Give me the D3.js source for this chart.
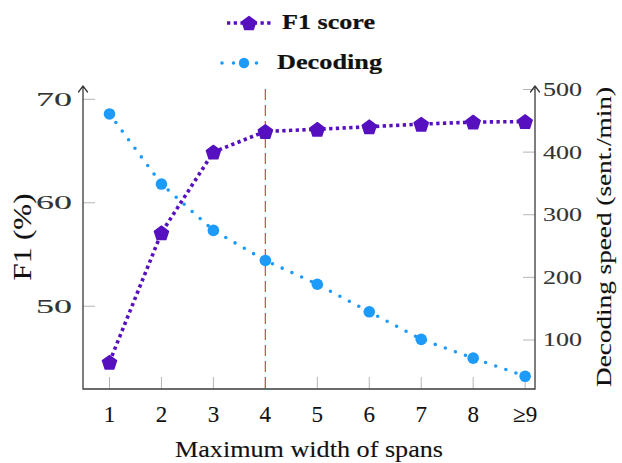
<!DOCTYPE html>
<html>
<head>
<meta charset="utf-8">
<script src="https://cdn.jsdelivr.net/npm/d3@7"></script>
<style>
  html, body { margin: 0; padding: 0; background: #fff; }
  svg { display: block; }
</style>
</head>
<body>
<svg id="chart" width="622" height="463"></svg>
<script>
// ---- data ----
const spanWidths = [1, 2, 3, 4, 5, 6, 7, 8, 9];
const xTickLabels = ["1", "2", "3", "4", "5", "6", "7", "8", "≥9"];
const f1Scores = [44.6, 57.1, 64.9, 66.9, 67.1, 67.35, 67.6, 67.8, 67.85];
const decodingSpeed = [461, 349, 275, 227, 189, 145, 101, 71, 42];
const leftTicks = [50, 60, 70];
const rightTicks = [100, 200, 300, 400, 500];
const markerWidth = 4;
const seriesNames = ["F1 score", "Decoding"];

// ---- layout ----
const plot = { left: 83, right: 535, top: 87, bottom: 389 };
const purple = "#5610c0";
const blue = "#1d9bfb";
const textColor = "#111";
const FONT = "Liberation Serif";

const svg = d3.select("#chart");

const x = d3.scaleLinear().domain([0.49, 9.19]).range([plot.left, plot.right]);
const yL = d3.scaleLinear().domain([42, 71.19]).range([plot.bottom, plot.top]);
const yR = d3.scaleLinear().domain([21.7, 504]).range([plot.bottom, plot.top]);

function txt(sel, sw) {
  return sel.attr("font-family", FONT).attr("fill", textColor)
    .attr("stroke", textColor).attr("stroke-width", sw == null ? 0.12 : sw);
}

// ticks (inward, light gray)
const tickColor = "#b5b5b5";
const tickLen = 12;
const gTicks = svg.append("g");
gTicks.selectAll(".xt").data(spanWidths).enter().append("line")
  .attr("x1", d => x(d)).attr("x2", d => x(d))
  .attr("y1", plot.bottom).attr("y2", plot.bottom - tickLen)
  .attr("stroke", tickColor).attr("stroke-width", 1);
gTicks.selectAll(".lt").data(leftTicks).enter().append("line")
  .attr("x1", plot.left).attr("x2", plot.left + tickLen)
  .attr("y1", d => yL(d)).attr("y2", d => yL(d))
  .attr("stroke", tickColor).attr("stroke-width", 1);
gTicks.selectAll(".rt").data(rightTicks).enter().append("line")
  .attr("x1", plot.right - tickLen).attr("x2", plot.right)
  .attr("y1", d => yR(d)).attr("y2", d => yR(d))
  .attr("stroke", tickColor).attr("stroke-width", 1);

// red dashed line at the chosen width
svg.append("line")
  .attr("x1", x(markerWidth)).attr("x2", x(markerWidth))
  .attr("y1", plot.top + 2).attr("y2", plot.bottom)
  .attr("stroke", "#e0504a").attr("stroke-width", 1.3)
  .attr("stroke-dasharray", "11 5");

// axis lines
const axisColor = "#3a3a3a";
svg.append("path")
  .attr("d", `M${plot.left},${plot.top} L${plot.left},${plot.bottom} L${plot.right},${plot.bottom} L${plot.right},${plot.top}`)
  .attr("fill", "none").attr("stroke", axisColor).attr("stroke-width", 1.3);
[plot.left, plot.right].forEach(ax => {
  svg.append("path")
    .attr("d", `M${ax - 4.5},${plot.top + 5} L${ax},${plot.top - 1} L${ax + 4.5},${plot.top + 5}`)
    .attr("fill", "none").attr("stroke", axisColor).attr("stroke-width", 1.3)
    .attr("stroke-linejoin", "round").attr("stroke-linecap", "round");
});

// tick labels
txt(svg.selectAll(".xl").data(spanWidths).enter().append("text"))
  .attr("x", d => x(d)).attr("y", 422)
  .attr("text-anchor", "middle").attr("font-size", 23)
  .text((d, i) => xTickLabels[i]);
txt(svg.selectAll(".ll").data(leftTicks).enter().append("text"), 0.1)
  .attr("x", 72).attr("y", d => yL(d) + 6.5)
  .attr("text-anchor", "end").attr("font-size", 19)
  .attr("textLength", 36).attr("lengthAdjust", "spacingAndGlyphs")
  .attr("fill", "#333").attr("stroke", "#333")
  .text(d => d);
txt(svg.selectAll(".rl").data(rightTicks).enter().append("text"), 0.1)
  .attr("x", 543).attr("y", d => yR(d) + 6.5)
  .attr("text-anchor", "start").attr("font-size", 19)
  .attr("textLength", 39).attr("lengthAdjust", "spacingAndGlyphs")
  .attr("fill", "#333").attr("stroke", "#333")
  .text(d => d);

// axis titles
txt(svg.append("text"))
  .attr("x", 309).attr("y", 457)
  .attr("text-anchor", "middle").attr("font-size", 23)
  .attr("textLength", 268).attr("lengthAdjust", "spacingAndGlyphs")
  .text("Maximum width of spans");
txt(svg.append("text"))
  .attr("transform", "translate(31,237) rotate(-90)")
  .attr("text-anchor", "middle").attr("font-size", 25)
  .attr("textLength", 87).attr("lengthAdjust", "spacingAndGlyphs")
  .text("F1 (%)");
txt(svg.append("text"))
  .attr("transform", "translate(611,237) rotate(-90)")
  .attr("text-anchor", "middle").attr("font-size", 21)
  .attr("textLength", 300).attr("lengthAdjust", "spacingAndGlyphs")
  .text("Decoding speed (sent./min)");

// markers
const pentagon = (cx, cy, r) => {
  const pts = d3.range(5).map(k => {
    const a = -Math.PI / 2 + k * 2 * Math.PI / 5;
    return [cx + r * Math.cos(a), cy + r * Math.sin(a)];
  });
  return "M" + pts.map(p => p.join(",")).join("L") + "Z";
};

// decoding series
const lineDec = d3.line().x((d, i) => x(spanWidths[i])).y(d => yR(d));
svg.append("path").datum(decodingSpeed)
  .attr("d", lineDec).attr("fill", "none")
  .attr("stroke", blue).attr("stroke-width", 3.6)
  .attr("stroke-linecap", "round").attr("stroke-dasharray", "0 10.7");
svg.selectAll(".dm").data(decodingSpeed).enter().append("circle")
  .attr("cx", (d, i) => x(spanWidths[i])).attr("cy", d => yR(d))
  .attr("r", 5.8).attr("fill", blue);

// F1 series
const lineF1 = d3.line().x((d, i) => x(spanWidths[i])).y(d => yL(d));
svg.append("path").datum(f1Scores)
  .attr("d", lineF1).attr("fill", "none")
  .attr("stroke", purple).attr("stroke-width", 3.6)
  .attr("stroke-dasharray", "3.3 3.4");
svg.selectAll(".fm").data(f1Scores).enter().append("path")
  .attr("d", (d, i) => pentagon(x(spanWidths[i]), yL(d) + 0.8, 7.4))
  .attr("fill", purple).attr("stroke", purple).attr("stroke-width", 1.5)
  .attr("stroke-linejoin", "round");

// legend
const legend = [
  { name: seriesNames[0], color: purple, x1: 227, x2: 271, mx: 249, y: 23, ty: 29, tx: 282, tw: 93, dash: "3.3 3.4", cap: "butt", shape: "pent" },
  { name: seriesNames[1], color: blue, x1: 222, x2: 268, mx: 244, y: 63, ty: 69, tx: 277, tw: 105, dash: "0 11.5", cap: "round", shape: "circ" }
];
legend.forEach(l => {
  svg.append("line").attr("x1", l.x1).attr("x2", l.x2).attr("y1", l.y).attr("y2", l.y)
    .attr("stroke", l.color).attr("stroke-width", 3.6)
    .attr("stroke-dasharray", l.dash).attr("stroke-linecap", l.cap);
  if (l.shape === "pent") {
    svg.append("path").attr("d", pentagon(l.mx, l.y + 0.8, 7.2))
      .attr("fill", l.color).attr("stroke", l.color).attr("stroke-width", 1.5)
      .attr("stroke-linejoin", "round");
  } else {
    svg.append("circle").attr("cx", l.mx).attr("cy", l.y).attr("r", 5.2).attr("fill", l.color);
  }
  txt(svg.append("text"), 0.2).attr("x", l.tx).attr("y", l.ty)
    .attr("font-size", 21).attr("font-weight", "bold")
    .attr("textLength", l.tw).attr("lengthAdjust", "spacingAndGlyphs")
    .text(l.name);
});
</script>
</body>
</html>
